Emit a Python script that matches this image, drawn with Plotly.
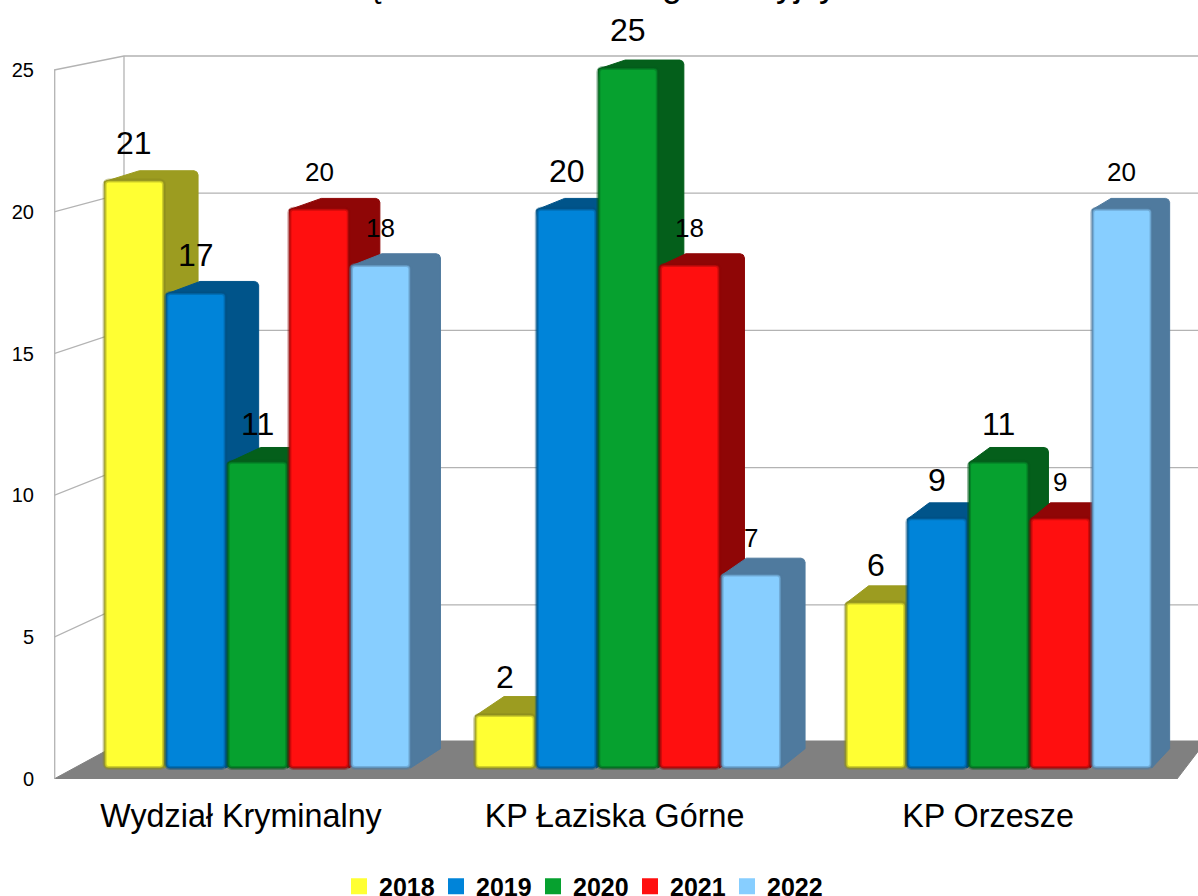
import plotly.graph_objects as go

# ---- data ----
categories = ["Wydział Kryminalny", "KP Łaziska Górne", "KP Orzesze"]
years = ["2018", "2019", "2020", "2021", "2022"]
v2018 = [21, 2, 6]
v2019 = [17, 20, 9]
v2020 = [11, 25, 11]
v2021 = [20, 18, 9]
v2022 = [18, 7, 20]
y_ticks = [0, 5, 10, 15, 20, 25]
title_fragments = ["ę", "g", "y", "j", "y"]
title_fragment_px = [377, 672, 785, 797, 828]

series = [v2018, v2019, v2020, v2021, v2022]
front = ["#FFFF33", "#0084D9", "#06A12F", "#FF0F0F", "#87CEFF"]
edge = ["#8A8A1E", "#004F82", "#035C1B", "#8F0606", "#4F7A9E"]
side = ["#9C9C20", "#00548A", "#045F1B", "#8F0606", "#4F7A9E"]
label_size = [32, 32, 32, 26, 26]

# ---- geometry of the picture ----
W, H = 1198, 896
L, B = 54, 117
plot_w, plot_h = W - L, H - B
GROUP_PX, X0_PX = 370.6, 257.5
BAR = 61.6 / GROUP_PX
Y_FRONT0, Y_FRONT_U = 779, 28.36     # axis scale, front edge of the wall
Y_BACK0, Y_BACK_U = 742, 27.44       # back wall scale
Y_BAR0, Y_BAR_U = 771.3, 28.13       # bar plane scale
BAR_FLOOR_PX = 768                   # the bars stand slightly above their zero
BAR_BASE = (Y_BAR0 - BAR_FLOOR_PX) / Y_BAR_U
WALL_L, WALL_BACK = 54, 124
VP_X, VP_Y, K = 2260, -426, 0.0162   # vanishing point of the bar depth
R = 4                                # corner radius of the depth faces


def x_of_px(px):
    return (px - X0_PX) / GROUP_PX


def px_of_x(x):
    return X0_PX + GROUP_PX * x


def y_of_px(py):
    return (Y_FRONT0 - py) / Y_FRONT_U


def back(px, py):
    return px + (VP_X - px) * K, py + (VP_Y - py) * K


def rgba(hex_color, a):
    h = hex_color.lstrip("#")
    return "rgba(%d,%d,%d,%s)" % (int(h[:2], 16), int(h[2:4], 16), int(h[4:], 16), a)


fig = go.Figure()

# floor
fx = [WALL_L, 1177, 1206, WALL_BACK, WALL_L]
fy = [779, 779, 741, 741, 779]
fig.add_trace(go.Scatter(x=[x_of_px(p) for p in fx], y=[y_of_px(p) for p in fy],
                         mode="lines", fill="toself", fillcolor="#808080",
                         line=dict(color="#808080", width=1), showlegend=False, hoverinfo="skip"))

# walls and grid
grid = dict(mode="lines", showlegend=False, hoverinfo="skip")
for t in y_ticks[1:]:
    by = Y_BACK0 - Y_BACK_U * t
    fig.add_trace(go.Scatter(x=[x_of_px(WALL_L), x_of_px(WALL_BACK), x_of_px(W + 5)],
                             y=[t, y_of_px(by), y_of_px(by)],
                             line=dict(color="#B3B3B3", width=1.3), **grid))
fig.add_trace(go.Scatter(x=[x_of_px(WALL_L + 0.7)] * 2, y=[0, y_ticks[-1]],
                         line=dict(color="#B3B3B3", width=1.3), **grid))
fig.add_trace(go.Scatter(x=[x_of_px(WALL_BACK)] * 2,
                         y=[y_of_px(Y_BACK0), y_of_px(Y_BACK0 - Y_BACK_U * y_ticks[-1])],
                         line=dict(color="#B3B3B3", width=1.3), **grid))

# depth faces of the bars, computed from the values
for i, vals in enumerate(series):
    for g, v in enumerate(vals):
        xc = g + (i - 2) * BAR
        x1 = px_of_x(xc - BAR / 2) + 1
        x2 = px_of_x(xc + BAR / 2) - 1
        top = Y_BAR0 - Y_BAR_U * v
        bx1, by1 = back(x1, top)
        bx2, by2 = back(x2, top)
        bx3, by3 = back(x2, BAR_FLOOR_PX)
        poly = [(x1, top + 1), (bx1, by1), (bx2 - R, by2), (bx2 - 0.3 * R, by2 + 0.3 * R), (bx2, by2 + R),
                (bx3, by3), (x2, BAR_FLOOR_PX), (x1, top + 1)]
        fig.add_trace(go.Scatter(x=[x_of_px(p[0]) for p in poly], y=[y_of_px(p[1]) for p in poly],
                                 mode="lines", fill="toself", fillcolor=side[i],
                                 line=dict(color=side[i], width=1), showlegend=False, hoverinfo="skip"))

# front faces: a wide faint outline and a narrow strong one give the soft bevel
for i, vals in enumerate(series):
    xs = [g + (i - 2) * BAR for g in range(len(vals))]
    heights = [v - BAR_BASE for v in vals]
    fig.add_trace(go.Bar(x=xs, y=heights, base=BAR_BASE, width=BAR - 0.006, yaxis="y2",
                         marker=dict(color=front[i], line=dict(color=rgba(edge[i], 0.4), width=4),
                                     cornerradius=4),
                         showlegend=False, hoverinfo="skip"))
    fig.add_trace(go.Bar(x=xs, y=heights, base=BAR_BASE, width=BAR - 0.006, yaxis="y2",
                         marker=dict(color="rgba(0,0,0,0)", line=dict(color=rgba(edge[i], 0.6), width=1.5),
                                     cornerradius=4),
                         showlegend=False, hoverinfo="skip"))

# legend
for i, name in enumerate(years):
    fig.add_trace(go.Scatter(x=[None], y=[None], mode="markers", name=name,
                             marker=dict(symbol="square", size=16, color=front[i])))

# value labels
ann = []
for i, vals in enumerate(series):
    for g, v in enumerate(vals):
        ann.append(dict(x=g + (i - 2) * BAR, y=v, xref="x", yref="y2", yshift=38 if label_size[i] == 32 else 36.5,
                        text=str(v), showarrow=False, xanchor="center", yanchor="middle",
                        font=dict(size=label_size[i], color="#000000")))
# what the page shows of the chart title: only descenders survive at the top edge
for ch, px in zip(title_fragments, title_fragment_px):
    ann.append(dict(x=x_of_px(px), y=1, xref="x", yref="paper", yanchor="bottom", yshift=-6,
                    text=ch, showarrow=False, xanchor="center", font=dict(size=36, color="#000000")))

tick_px = [241 + 373.5 * g for g in range(len(categories))]
fig.update_layout(
    width=W, height=H, margin=dict(l=L, r=0, t=0, b=B, pad=0), autosize=False,
    paper_bgcolor="white", plot_bgcolor="white",
    font=dict(family="Liberation Sans", color="#000000"),
    barmode="overlay",
    xaxis=dict(range=[x_of_px(L), x_of_px(W)], tickvals=[x_of_px(p) for p in tick_px], ticktext=categories,
               showgrid=False, zeroline=False, showline=False, ticks="", ticklabelstandoff=15,
               tickfont=dict(size=32.3), automargin=False),
    yaxis=dict(range=[0, plot_h / Y_FRONT_U], tickvals=y_ticks, showgrid=False, zeroline=False,
               showline=False, ticks="", ticklabelstandoff=19, tickfont=dict(size=20), automargin=False),
    yaxis2=dict(range=[(Y_BAR0 - plot_h) / Y_BAR_U, Y_BAR0 / Y_BAR_U], overlaying="y", visible=False),
    legend=dict(orientation="h", xref="container", yref="container", x=339 / W, xanchor="left",
                y=1 - 886.5 / H, yanchor="middle",
                entrywidth=52, entrywidthmode="pixels", font=dict(size=25, weight=700), itemsizing="trace",
                bgcolor="rgba(0,0,0,0)"),
    annotations=ann,
)
fig.write_html("out.html", config=dict(displayModeBar=False),
               post_script="document.body.style.margin='0';document.documentElement.style.overflow='hidden';")
